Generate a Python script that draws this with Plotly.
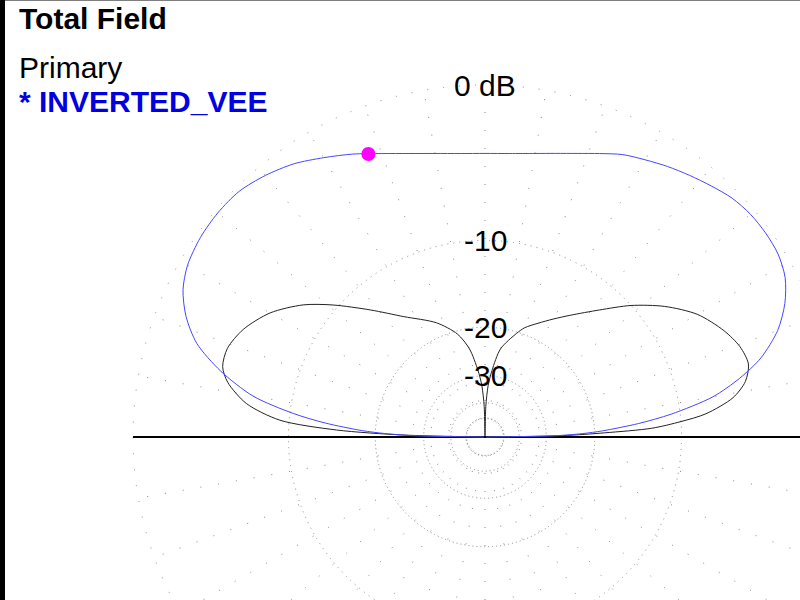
import numpy as np
import plotly.graph_objects as go

# Elevation pattern, angle from the right-hand horizon (deg),
# gain in dB relative to the outer (0 dB) ring.
blue_angle = [0, 1, 2, 3, 5, 7, 10, 13, 16, 20, 24, 28, 32, 36, 40, 44, 48, 52,
              56, 60, 64, 68, 72, 76, 80, 85, 90, 95, 100, 105, 110, 115, 120,
              125, 130, 135, 140, 145, 150, 154, 158, 162, 166, 170, 173, 175,
              177, 178, 179, 180]
blue_db = [-99, -28, -22, -18.8, -14.2, -10.8, -7.2, -5.1, -3.5, -2.1, -1.2,
           -0.6, -0.32, -0.25, -0.27, -0.41, -0.7, -1.0, -1.3, -1.63, -1.95,
           -2.42, -2.85, -3.19, -3.45, -3.65, -3.71, -3.65, -3.45, -3.12, -2.65,
           -2.06, -1.5, -0.93, -0.52, -0.22, -0.16, -0.22, -0.42, -0.8, -1.5,
           -2.57, -4.4, -6.9, -10.3, -13.5, -18.0, -21.5, -27.5, -99]

black_angle = [0, 1, 2, 3, 4.5, 6, 9, 12, 15.5, 19.5, 24, 30, 36, 42, 48, 55,
               60, 65, 70, 73, 80, 84, 86.5, 88.5, 90, 91.5, 93.5, 96, 100, 105,
               113, 124, 132, 139, 144, 150, 156, 161, 165, 168, 172, 175.3,
               177.3, 178.6, 180]
black_db = [-99, -26, -18.5, -12.8, -10.0, -7.9, -5.8, -4.8, -4.34, -4.52,
            -5.1, -6.2, -7.9, -10.0, -12.4, -14.8, -16.3, -17.7, -19.0, -20.2,
            -23.5, -28.5, -33, -42, -99, -42, -33, -28.5, -23.5, -20.5, -17.9,
            -15.2, -12.4, -9.6, -7.7, -6.0, -4.9, -4.4, -4.45, -5.0, -6.5,
            -9.2, -14.8, -25, -99]

ring_db = [0, -10, -20, -30, -40, -50]
ring_dash = ["1px,15px", "1px,5px", "1px,3px", "1px,3px", "1px,3px", "1px,3px"]
label_db = [0, -10, -20, -30]
label_text = ["0 dB", "-10", "-20", "-30"]
spoke_angles = list(range(0, 360, 10))

cursor_angle = 112.4
cursor_db = -2.4

FONT = "Liberation Sans, Arial, sans-serif"
GRID = "#8a8a8a"


def arrl(db):
    # ARRL log scale: radius shrinks by a factor 0.89 every 2 dB
    return 0.89 ** (-np.asarray(db, dtype=float) / 2.0)


def to_xy(angle, db):
    r = arrl(db)
    a = np.radians(np.asarray(angle, dtype=float))
    return r * np.cos(a), r * np.sin(a)


fig = go.Figure()

# grid rings and spokes
for db, dash in zip(ring_db, ring_dash):
    r = float(arrl(db))
    fig.add_shape(type="circle", xref="x", yref="y", x0=-r, y0=-r, x1=r, y1=r,
                  line=dict(color=GRID, width=1, dash=dash), layer="below")
for ang in spoke_angles:
    a = np.radians(ang)
    fig.add_shape(type="line", xref="x", yref="y", x0=0, y0=0,
                  x1=float(np.cos(a)), y1=float(np.sin(a)),
                  line=dict(color=GRID, width=1, dash="1px,17px"), layer="below")

# ground line
fig.add_shape(type="line", xref="x", yref="y", x0=-1, y0=0, x1=1, y1=0,
              line=dict(color="black", width=2), layer="below")

bx, by = to_xy(black_angle, black_db)
fig.add_trace(go.Scatter(x=bx, y=by, mode="lines", name="other",
                         line=dict(color="#222222", width=1, shape="spline",
                                   smoothing=0.8),
                         hoverinfo="skip"))

ux, uy = to_xy(blue_angle, blue_db)
fig.add_trace(go.Scatter(x=ux, y=uy, mode="lines", name="INVERTED_VEE",
                         line=dict(color="#4646ff", width=1, shape="spline",
                                   smoothing=0.8),
                         hoverinfo="skip"))

cx, cy = to_xy([cursor_angle], [cursor_db])
fig.add_trace(go.Scatter(x=cx, y=cy, mode="markers",
                         marker=dict(color="#ff00ff", size=14, line_width=0),
                         hoverinfo="skip"))

# ring labels
for db, txt in zip(label_db, label_text):
    fig.add_annotation(x=0, y=float(arrl(db)), xref="x", yref="y", text=txt,
                       showarrow=False, xanchor="center", yanchor="middle",
                       font=dict(family=FONT, size=30, color="black"))

# header texts
HX = 17 / 800
fig.add_annotation(x=HX, y=1 - 18 / 600, xref="paper", yref="paper",
                   text="<b>Total Field</b>", showarrow=False,
                   xanchor="left", yanchor="middle",
                   font=dict(family=FONT, size=30, color="black"))
fig.add_annotation(x=HX, y=1 - 68 / 600, xref="paper", yref="paper",
                   text="Primary", showarrow=False,
                   xanchor="left", yanchor="middle",
                   font=dict(family=FONT, size=30, color="black"))
fig.add_annotation(x=HX, y=1 - 101 / 600, xref="paper", yref="paper",
                   text="<b>* INVERTED_VEE</b>", showarrow=False,
                   xanchor="left", yanchor="middle",
                   font=dict(family=FONT, size=30, color="#0000e0"))

# window frame: black strip on the left, thin line on top
fig.add_shape(type="rect", xref="paper", yref="paper", x0=0, x1=5 / 800,
              y0=0, y1=1, fillcolor="black", line_width=0)
fig.add_shape(type="line", xref="paper", yref="paper", x0=0, x1=1,
              y0=1, y1=1, line=dict(color="black", width=1))

R_PX = 352.0
fig.update_layout(
    width=800, height=600,
    margin=dict(l=0, r=0, t=0, b=0),
    paper_bgcolor="white", plot_bgcolor="white",
    showlegend=False,
    xaxis=dict(range=[-485 / R_PX, 315 / R_PX], visible=False, fixedrange=True),
    yaxis=dict(range=[-163 / R_PX, 437 / R_PX], visible=False, fixedrange=True),
)

# drop the page's default body margin so the figure sits at the window corner
fig.write_html("out.html",
               config={"displayModeBar": False},
               post_script="document.body.style.margin='0';"
                           "document.body.style.overflow='hidden';")
